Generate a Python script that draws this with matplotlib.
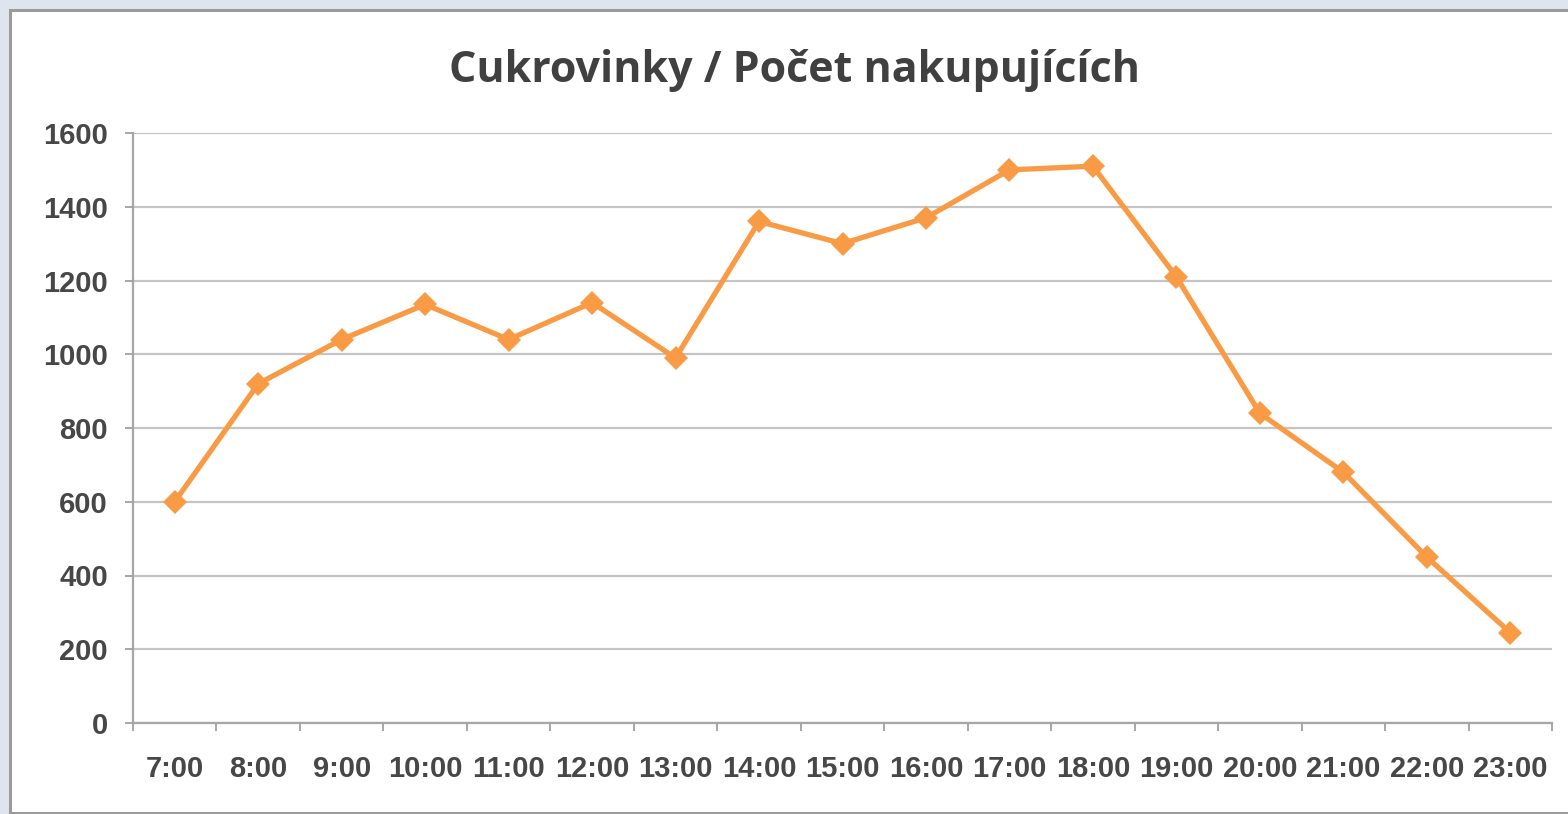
import matplotlib.pyplot as plt
from matplotlib.patches import Rectangle


HOURS = ["7:00", "8:00", "9:00", "10:00", "11:00", "12:00", "13:00", "14:00",
         "15:00", "16:00", "17:00", "18:00", "19:00", "20:00", "21:00",
         "22:00", "23:00"]
SHOPPERS = [600, 920, 1040, 1135, 1040, 1140, 990, 1360,
            1300, 1370, 1500, 1510, 1210, 840, 680, 450, 245]
Y_TICKS = [0, 200, 400, 600, 800, 1000, 1200, 1400, 1600]

TITLE = "Cukrovinky / Počet nakupujících"
ORANGE = "#F99B45"
TEXT = "#474747"


def main():
    W, H = 1568, 814
    fig = plt.figure(figsize=(W / 100, H / 100), dpi=100)
    fig.patch.set_facecolor("#dfe5ee")

    # white chart frame with grey border
    fig.patches.append(Rectangle((10 / W, 1 / H), 1.2, (H - 11) / H,
                                 transform=fig.transFigure, facecolor="white",
                                 edgecolor="#9a9a9a", linewidth=2.2, zorder=-5))

    ax = fig.add_axes([133 / W, (H - 723) / H, (1552 - 133) / W, (723 - 133) / H])
    ax.set_zorder(2)
    ax.set_facecolor("none")

    x = list(range(len(HOURS)))
    ax.plot(x, SHOPPERS, color=ORANGE, linewidth=3.8, marker="D",
            markersize=12.5, markeredgewidth=0, zorder=3, clip_on=False)

    ax.set_xlim(-0.5, len(HOURS) - 0.5)
    ax.set_ylim(0, 1600)
    ax.set_yticks(Y_TICKS)
    ax.set_yticklabels([str(v) for v in Y_TICKS])
    ax.set_xticks(x)
    ax.set_xticklabels(HOURS)
    ax.set_xticks([i - 0.5 for i in range(len(HOURS) + 1)], minor=True)

    ax.grid(axis="y", color="#c4c4c4", linewidth=1.6)
    ax.set_axisbelow(True)

    for side in ["top", "right"]:
        ax.spines[side].set_visible(False)
    for side in ["left", "bottom"]:
        ax.spines[side].set_color("#a6a6a6")
        ax.spines[side].set_linewidth(1.6)

    ax.tick_params(axis="y", direction="out", length=6, width=1.4,
                   color="#a6a6a6", pad=12)
    ax.tick_params(axis="x", which="major", length=0, pad=23)
    ax.tick_params(axis="x", which="minor", direction="out", length=6,
                   width=1.4, color="#a6a6a6")

    for lab in ax.get_xticklabels() + ax.get_yticklabels():
        lab.set_fontfamily("Liberation Sans")
        lab.set_fontweight("bold")
        lab.set_fontsize(21)
        lab.set_color(TEXT)

    fig.text(0.507, 0.914, TITLE, ha="center", va="center",
             fontfamily="Open Sans", fontweight="bold", fontsize=31,
             color="#404040", zorder=3)

    fig.savefig("out.png", dpi=100, facecolor=fig.get_facecolor())


if __name__ == "__main__":
    main()
